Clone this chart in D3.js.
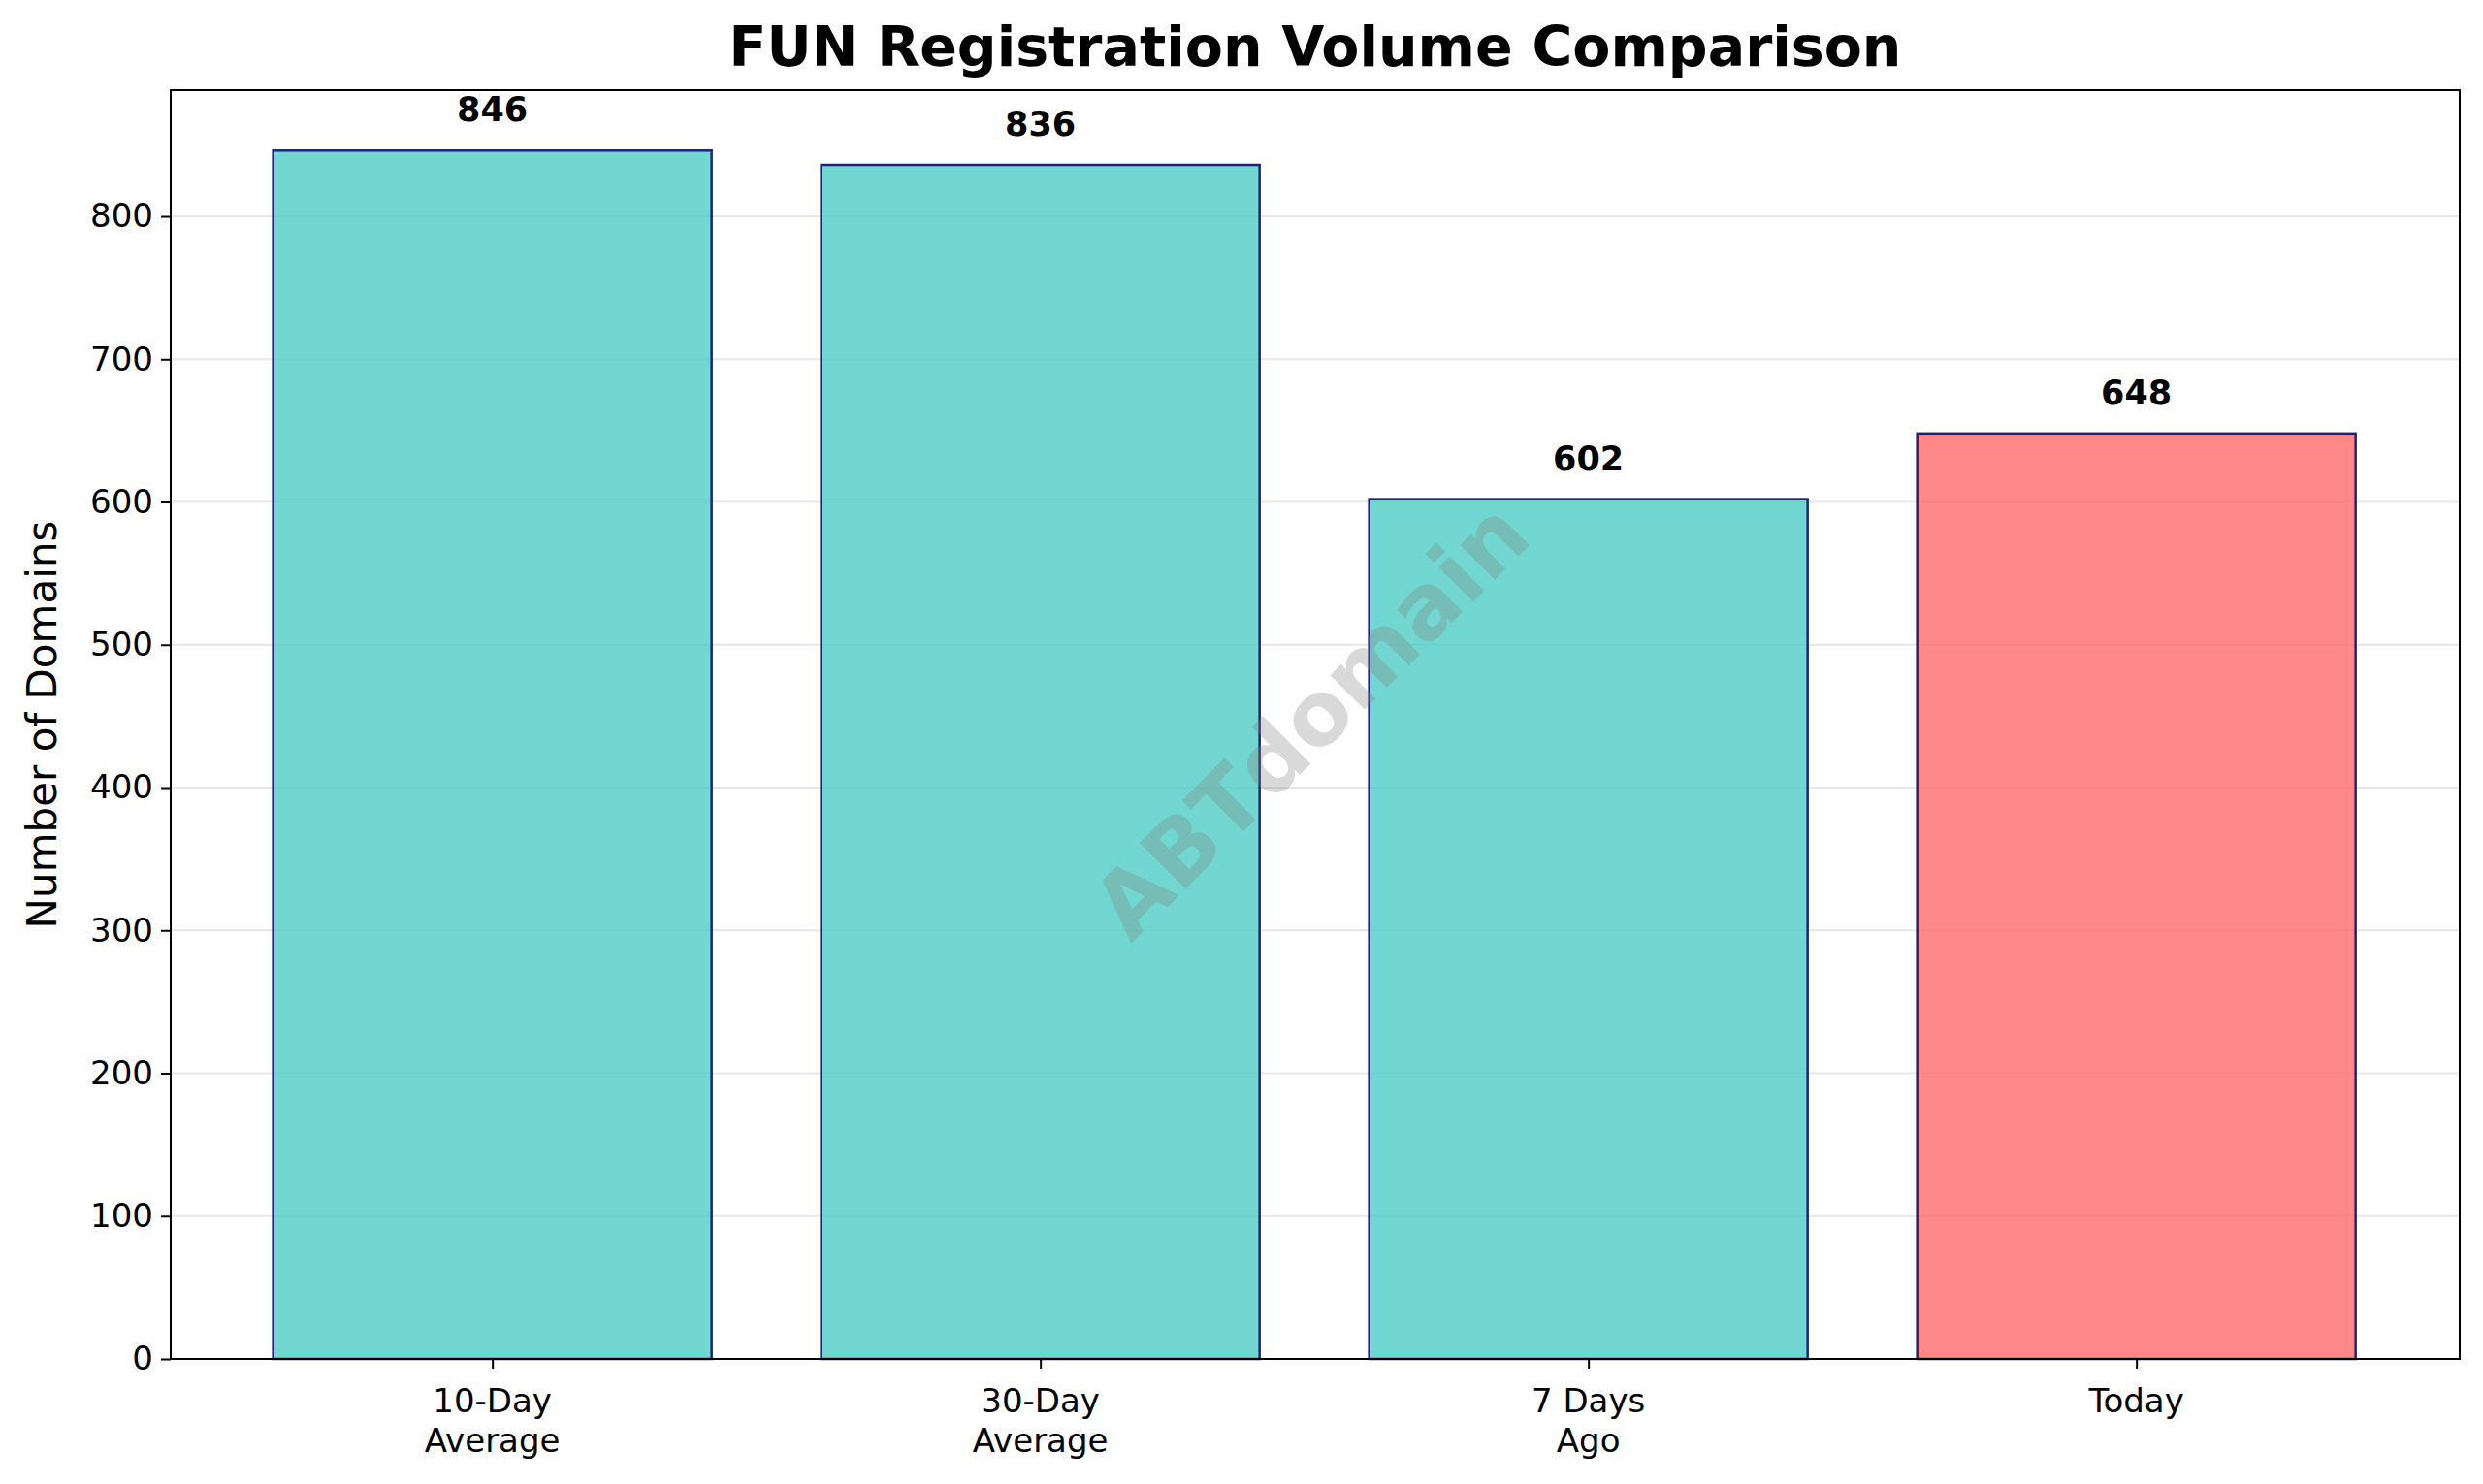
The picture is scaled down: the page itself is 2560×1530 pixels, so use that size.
<!DOCTYPE html>
<html><head><meta charset="utf-8">
<script src="https://cdn.jsdelivr.net/npm/d3@7"></script>
<style>body{margin:0;background:#fff}svg{display:block;font-family:"DejaVu Sans",sans-serif}</style>
</head><body><svg id="c" width="2560" height="1530"></svg>
<script>
const categories = [["10-Day","Average"],["30-Day","Average"],["7 Days","Ago"],["Today"]];
const values = [846, 836, 602, 648];
const colors = ["#4ECDC4","#4ECDC4","#4ECDC4","#FF6B6B"];
const yTicks = [0,100,200,300,400,500,600,700,800];

const svg = d3.select("#c");
const L=176, R=2536, T=93, B=1401;
const x = d3.scaleLinear().domain([-0.587,3.59]).range([L,R]);
const y = d3.scaleLinear().domain([0,888.3]).range([B,T]);

const g = svg.append("g");
g.selectAll("line.grid").data(yTicks).enter().append("line")
 .attr("x1",L).attr("x2",R).attr("y1",d=>y(d)).attr("y2",d=>y(d))
 .attr("stroke","#b0b0b0").attr("stroke-opacity",0.3).attr("stroke-width",2);

g.selectAll("rect").data(values).enter().append("rect")
 .attr("x",(d,i)=>x(i-0.4)).attr("width",x(0.4)-x(-0.4))
 .attr("y",d=>y(d)).attr("height",d=>y(0)-y(d))
 .attr("fill",(d,i)=>colors[i]).attr("fill-opacity",0.8)
 .attr("stroke","#1a237e").attr("stroke-width",2.5);

g.selectAll("text.val").data(values).enter().append("text")
 .attr("x",(d,i)=>x(i)).attr("y",d=>y(d)-30)
 .attr("text-anchor","middle").attr("font-weight","bold").attr("font-size",35)
 .text(d=>d);

// watermark
svg.append("text").attr("transform",`translate(${(L+R)/2},${(T+B)/2}) rotate(-45)`)
 .attr("text-anchor","middle").attr("dominant-baseline","middle")
 .attr("font-size",92).attr("font-weight","bold").attr("fill","#808080").attr("fill-opacity",0.3)
 .text("ABTdomain");

// y axis
const ya = svg.append("g").attr("transform",`translate(${L},0)`)
 .call(d3.axisLeft(y).tickValues(yTicks).tickSize(10).tickPadding(8));
ya.select(".domain").remove();
ya.selectAll("line").attr("stroke","#000").attr("stroke-width",2);
ya.selectAll("text").attr("font-size",34).attr("font-family","DejaVu Sans");

// x axis
const xa = svg.append("g").attr("transform",`translate(0,${B})`)
 .call(d3.axisBottom(x).tickValues([0,1,2,3]).tickSize(10).tickFormat(""));
xa.select(".domain").remove();
xa.selectAll("line").attr("stroke","#000").attr("stroke-width",2);
categories.forEach((c,i)=>{
  const t = svg.append("text").attr("x",x(i)).attr("y",B+55).attr("text-anchor","middle").attr("font-size",34);
  c.forEach((s,j)=>t.append("tspan").attr("x",x(i)).attr("dy",j?41:0).text(s));
});

svg.append("rect").attr("x",L).attr("y",T).attr("width",R-L).attr("height",B-T)
 .attr("fill","none").attr("stroke","#000").attr("stroke-width",2);

svg.append("text").attr("x",(L+R)/2).attr("y",68).attr("text-anchor","middle")
 .attr("font-size",57).attr("font-weight","bold").text("FUN Registration Volume Comparison");
svg.append("text").attr("transform",`translate(58,${(T+B)/2}) rotate(-90)`)
 .attr("text-anchor","middle").attr("font-size",42).text("Number of Domains");
</script></body></html>
